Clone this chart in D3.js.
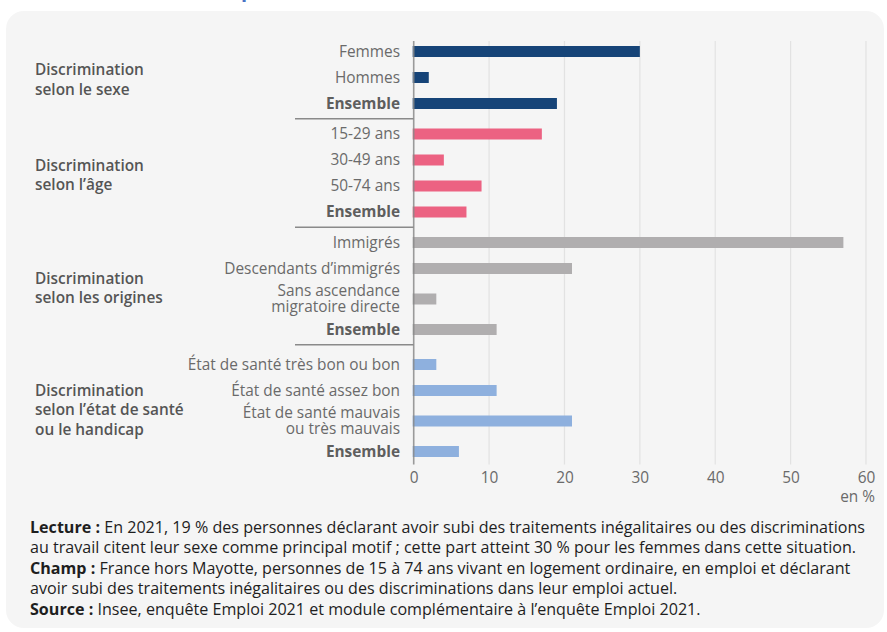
<!DOCTYPE html>
<html>
<head>
<meta charset="utf-8">
<script src="https://cdn.jsdelivr.net/npm/d3@7"></script>
<style>
  body { margin: 0; background: #fff; }
  svg { display: block; font-family: 'Open Sans', sans-serif; }
</style>
</head>
<body>
<div id="chart"></div>
<script>
// data
const groupLabels = [
  ['Discrimination', 'selon le sexe'],
  ['Discrimination', 'selon l’âge'],
  ['Discrimination', 'selon les origines'],
  ['Discrimination', 'selon l’état de santé', 'ou le handicap']
];
const sexeLabels = [['Femmes'], ['Hommes'], ['Ensemble']];
const sexeValues = [30, 2, 19];
const ageLabels = [['15-29 ans'], ['30-49 ans'], ['50-74 ans'], ['Ensemble']];
const ageValues = [17, 4, 9, 7];
const origineLabels = [['Immigrés'], ['Descendants d’immigrés'], ['Sans ascendance', 'migratoire directe'], ['Ensemble']];
const origineValues = [57, 21, 3, 11];
const santeLabels = [['État de santé très bon ou bon'], ['État de santé assez bon'], ['État de santé mauvais', 'ou très mauvais'], ['Ensemble']];
const santeValues = [3, 11, 21, 6];
const xTicks = [0, 10, 20, 30, 40, 50, 60];
const colors = ['#164478', '#ec6282', '#b0aeaf', '#8eb0de'];

const notes = [
  [['Lecture : ', true], ['En 2021, 19 % des personnes déclarant avoir subi des traitements inégalitaires ou des discriminations', false]],
  [['au travail citent leur sexe comme principal motif ; cette part atteint 30 % pour les femmes dans cette situation.', false]],
  [['Champ : ', true], ['France hors Mayotte, personnes de 15 à 74 ans vivant en logement ordinaire, en emploi et déclarant', false]],
  [['avoir subi des traitements inégalitaires ou des discriminations dans leur emploi actuel.', false]],
  [['Source : ', true], ['Insee, enquête Emploi 2021 et module complémentaire à l’enquête Emploi 2021.', false]]
];

const width = 887, height = 632;
const svg = d3.select('#chart').append('svg')
  .attr('width', width)
  .attr('height', height);

// panel
svg.append('rect')
  .attr('x', 6).attr('y', 11)
  .attr('width', 878).attr('height', 617)
  .attr('rx', 18)
  .attr('fill', '#f5f5f5');

// cut title fragment
svg.append('text')
  .attr('x', 241).attr('y', -3)
  .attr('fill', '#4a72c4')
  .attr('font-weight', 700)
  .attr('font-size', '20px')
  .text('p');

// build rows, layout units
const rowUnit = 26, extraLine = 9, groupPad = 2.25;
const groupsData = [
  {labels: sexeLabels, values: sexeValues},
  {labels: ageLabels, values: ageValues},
  {labels: origineLabels, values: origineValues},
  {labels: santeLabels, values: santeValues}
];
let rows = [], seps = [], groupMid = [];
let cursor = 0;
groupsData.forEach((g, gi) => {
  if (gi > 0) {
    cursor += groupPad;
    seps.push(cursor);
    cursor += groupPad;
  }
  cursor += (groupLabels[gi].length - 2) * 4.5;
  g.labels.forEach((lab, i) => {
    const h = rowUnit + (lab.length - 1) * extraLine;
    rows.push({
      label: lab,
      value: g.values[i],
      group: gi,
      bold: i === g.labels.length - 1,
      pos: cursor + h / 2
    });
    cursor += h;
  });
  groupMid.push({group: gi, pos: (rows[rows.length - 1].pos + rows[rows.length - g.labels.length].pos) / 2});
});
const total = cursor;

const plotTop = 38.5;
const y = d3.scaleLinear().domain([0, total]).range([plotTop, plotTop + total]);
const x = d3.scaleLinear().domain([0, 60]).range([413.7, 866]);

// grid
svg.append('g')
  .selectAll('line')
  .data(xTicks.filter(d => d > 0))
  .enter().append('line')
    .attr('x1', d => x(d)).attr('x2', d => x(d))
    .attr('y1', y(0) + 2.5).attr('y2', y(total))
    .attr('stroke', '#e2e2e2')
    .attr('stroke-width', 1.2);

// bars
const barH = 11;
svg.append('g')
  .selectAll('rect')
  .data(rows)
  .enter().append('rect')
    .attr('x', x(0) - 1)
    .attr('y', d => y(d.pos) - barH / 2)
    .attr('width', d => x(d.value) - x(0) + 1)
    .attr('height', barH)
    .attr('fill', d => colors[d.group]);

// axis line + separators
svg.append('line')
  .attr('x1', x(0)).attr('x2', x(0))
  .attr('y1', y(0) + 2.5).attr('y2', y(total))
  .attr('stroke', '#8a8a8a').attr('stroke-opacity', 0.85)
  .attr('stroke-width', 1.6);

svg.append('g')
  .selectAll('line')
  .data(seps)
  .enter().append('line')
    .attr('x1', 295).attr('x2', x(0))
    .attr('y1', d => y(d)).attr('y2', d => y(d))
    .attr('stroke', '#8a8a8a')
    .attr('stroke-width', 1.3);

// category labels
const lineGap = 16;
const catText = svg.append('g')
  .selectAll('text')
  .data(rows)
  .enter().append('text')
    .attr('x', 400)
    .attr('text-anchor', 'end')
    .attr('font-size', '15.4px')
    .attr('font-weight', d => d.bold ? 700 : 400)
    .attr('fill', d => d.bold ? '#5e5e5e' : '#6a6a6a');
catText.each(function(d) {
  const n = d.label.length;
  d3.select(this).selectAll('tspan')
    .data(d.label)
    .enter().append('tspan')
      .attr('x', 400)
      .attr('y', (t, i) => y(d.pos) + (i - (n - 1) / 2) * lineGap)
      .attr('dy', '0.35em')
      .text(t => t);
});

// group labels
const groupGap = 19.5;
const grpText = svg.append('g')
  .selectAll('text')
  .data(groupMid)
  .enter().append('text')
    .attr('x', 35)
    .attr('font-size', '15.4px')
    .attr('font-weight', 600)
    .attr('fill', '#555');
grpText.each(function(d) {
  const lab = groupLabels[d.group];
  const n = lab.length;
  d3.select(this).selectAll('tspan')
    .data(lab)
    .enter().append('tspan')
      .attr('x', 35)
      .attr('y', (t, i) => y(d.pos) + 2 + (i - (n - 1) / 2) * groupGap)
      .attr('dy', '0.35em')
      .text(t => t);
});

// x axis
const xAxis = d3.axisBottom(x).tickValues(xTicks).tickSize(0).tickPadding(8);
const ax = svg.append('g')
  .attr('transform', 'translate(0,' + y(total) + ')')
  .call(xAxis);
ax.select('.domain').remove();
ax.selectAll('text')
  .attr('font-family', "'Open Sans', sans-serif")
  .attr('font-size', '15.4px')
  .attr('fill', '#6a6a6a');

svg.append('text')
  .attr('x', 875).attr('y', y(total) + 32)
  .attr('dy', '0.35em')
  .attr('text-anchor', 'end')
  .attr('font-size', '15.4px')
  .attr('fill', '#6a6a6a')
  .text('en %');

// notes
const noteText = svg.append('g')
  .selectAll('text')
  .data(notes)
  .enter().append('text')
    .attr('x', 30)
    .attr('y', (d, i) => 527 + i * 20.5)
    .attr('dy', '0.35em')
    .attr('font-size', '16.1px')
    .attr('fill', '#1e1e1e');
noteText.each(function(d) {
  d3.select(this).selectAll('tspan')
    .data(d)
    .enter().append('tspan')
      .attr('font-weight', p => p[1] ? 700 : 400)
      .text(p => p[0]);
});
</script>
</body>
</html>
